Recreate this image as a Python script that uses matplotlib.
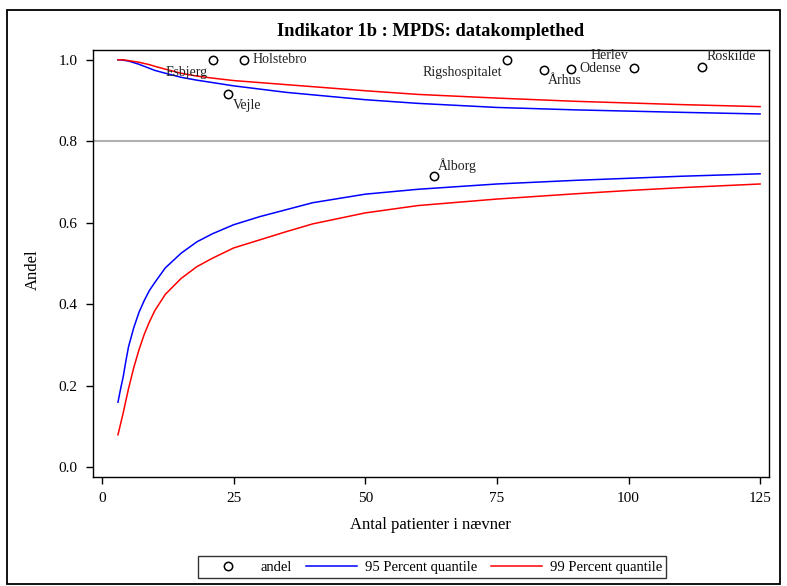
import numpy as np
import matplotlib
matplotlib.use("Agg")
import matplotlib.pyplot as plt
from matplotlib.patches import Rectangle

plt.rcParams["font.family"] = ["Liberation Serif", "DejaVu Serif"]

# grænser
n_grid = [3, 3.5, 4, 4.5, 5, 6, 7, 8, 9, 10, 12, 15, 18, 21, 25, 30, 35, 40, 50, 60, 75, 90, 100, 110, 125]
lower95 = [0.159, 0.192, 0.222, 0.260, 0.295, 0.342, 0.380, 0.409, 0.434, 0.453, 0.489, 0.525, 0.553, 0.573,
           0.595, 0.615, 0.632, 0.649, 0.670, 0.682, 0.695, 0.704, 0.709, 0.714, 0.720]
lower99 = [0.079, 0.106, 0.133, 0.163, 0.192, 0.244, 0.288, 0.326, 0.357, 0.384, 0.424, 0.463, 0.492, 0.513,
           0.538, 0.558, 0.578, 0.597, 0.624, 0.642, 0.658, 0.671, 0.679, 0.686, 0.695]
upper95 = [1.000, 1.000, 0.999, 0.998, 0.997, 0.993, 0.989, 0.984, 0.979, 0.974, 0.967, 0.957, 0.950, 0.944,
           0.936, 0.928, 0.920, 0.914, 0.902, 0.893, 0.883, 0.877, 0.874, 0.871, 0.867]
upper99 = [1.000, 1.000, 1.000, 0.999, 0.998, 0.996, 0.994, 0.991, 0.988, 0.984, 0.977, 0.967, 0.960, 0.955,
           0.949, 0.944, 0.939, 0.934, 0.924, 0.915, 0.906, 0.898, 0.894, 0.890, 0.885]

# afdelinger
names = ["Esbjerg", "Holstebro", "Vejle", "Rigshospitalet", "Århus", "Odense", "Herlev", "Roskilde", "Ålborg"]
naevner = [21, 27, 24, 77, 84, 89, 101, 114, 63]
andel = [1.0, 1.0, 0.917, 1.0, 0.976, 0.978, 0.980, 0.982, 0.714]
target = 0.8

# label placement (offset in pixels, alignment)
label_pos = {
    "Esbjerg": (-5, -13, "right"),
    "Holstebro": (8, 0, "left"),
    "Vejle": (4, -12, "left"),
    "Rigshospitalet": (-5, -13, "right"),
    "Århus": (4, -11, "left"),
    "Odense": (9, 0, "left"),
    "Herlev": (-5, 12, "right"),
    "Roskilde": (4, 11, "left"),
    "Ålborg": (4, 11, "left"),
}

fig = plt.figure(figsize=(7.87, 5.86), dpi=100)
ax = fig.add_axes([0.1178, 0.1865, 0.8587, 0.7288])

ax.axhline(target, color="#b0b0b0", lw=1.5, zorder=1)
l95, = ax.plot(n_grid, lower95, color="blue", lw=1.1)
ax.plot(n_grid, upper95, color="blue", lw=1.1)
l99, = ax.plot(n_grid, lower99, color="red", lw=1.1)
ax.plot(n_grid, upper99, color="red", lw=1.1)
pts, = ax.plot(naevner, andel, "o", mfc="white", mec="black", mew=1.1, ms=6, ls="none", zorder=5)

for name, x, y in zip(names, naevner, andel):
    dx, dy, ha = label_pos[name]
    ax.annotate(name, (x, y), xytext=(dx * 0.72, dy * 0.72), textcoords="offset points",
                ha=ha, va="center", fontsize=10, color="#222222")

ax.set_xlim(-1.8, 126.6)
ax.set_ylim(-0.024, 1.025)
ax.set_xticks([0, 25, 50, 75, 100, 125])
ax.set_yticks([0.0, 0.2, 0.4, 0.6, 0.8, 1.0])
ax.set_yticklabels(["0.0", "0.2", "0.4", "0.6", "0.8", "1.0"])
ax.tick_params(direction="out", length=5, width=1, labelsize=11, pad=6)
for s in ax.spines.values():
    s.set_linewidth(1)

ax.set_xlabel("Antal patienter i nævner", fontsize=12, va="center")
ax.xaxis.set_label_coords(0.5, -0.113)
ax.set_ylabel("Andel", fontsize=12, va="center")
ax.yaxis.set_label_coords(-0.088, 0.484)

fig.text(431 / 787, 1 - 31 / 586, "Indikator 1b : MPDS: datakomplethed",
         ha="center", va="center", fontsize=13.3, fontweight="bold")

leg = fig.legend([pts, l95, l99], ["andel", "95 Percent quantile", "99 Percent quantile"],
                 loc="center", bbox_to_anchor=(432 / 787, 1 - 567 / 586), ncol=3,
                 fontsize=10.5, frameon=True, fancybox=False, handlelength=3.5,
                 borderpad=0.3, columnspacing=1.0, handletextpad=0.5)
leg.get_frame().set_edgecolor("black")
leg.get_frame().set_linewidth(1)

fig.patches.append(Rectangle((7 / 787, 2 / 586), 773 / 787, 574 / 586, transform=fig.transFigure,
                             fill=False, edgecolor="black", lw=1.3))

fig.savefig("out.png", dpi=100)
